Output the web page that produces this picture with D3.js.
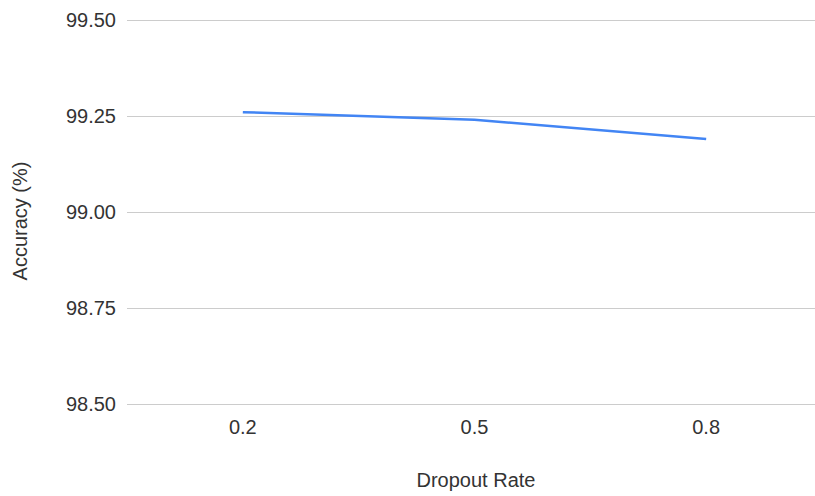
<!DOCTYPE html>
<html>
<head>
<meta charset="utf-8">
<script src="https://cdn.jsdelivr.net/npm/d3@7"></script>
<style>
  html, body { margin: 0; padding: 0; background: #fff; }
  svg text { font-family: "Liberation Sans", Arial, sans-serif; fill: #333; }
</style>
</head>
<body>
<svg id="chart" width="815" height="496"></svg>
<script>
// Dropout rate vs. accuracy
const dropoutRates = ["0.2", "0.5", "0.8"];
const accuracy = [99.26, 99.24, 99.19];
const yTicks = [98.50, 98.75, 99.00, 99.25, 99.50];

const svg = d3.select("#chart");
const W = 815, H = 496;
const plot = { left: 127, right: 822, top: 20, bottom: 404 };

const x = d3.scaleBand()
  .domain(dropoutRates)
  .range([plot.left, plot.right]);

const y = d3.scaleLinear()
  .domain([98.5, 99.5])
  .range([plot.bottom, plot.top]);

// horizontal gridlines
svg.append("g")
  .selectAll("line")
  .data(yTicks)
  .join("line")
  .attr("x1", plot.left)
  .attr("x2", plot.right)
  .attr("y1", d => Math.round(y(d)) + 0.5)
  .attr("y2", d => Math.round(y(d)) + 0.5)
  .attr("stroke", "#cccccc")
  .attr("stroke-width", 1.2);

// y tick labels
svg.append("g")
  .selectAll("text")
  .data(yTicks)
  .join("text")
  .attr("x", 116)
  .attr("y", d => y(d))
  .attr("dy", "0.35em")
  .attr("text-anchor", "end")
  .attr("font-size", 20)
  .text(d => d3.format(".2f")(d));

// x tick labels
svg.append("g")
  .selectAll("text")
  .data(dropoutRates)
  .join("text")
  .attr("x", d => x(d) + x.bandwidth() / 2)
  .attr("y", 434)
  .attr("text-anchor", "middle")
  .attr("font-size", 20)
  .text(d => d);

// axis titles
svg.append("text")
  .attr("x", 476)
  .attr("y", 487)
  .attr("text-anchor", "middle")
  .attr("font-size", 20)
  .text("Dropout Rate");

svg.append("text")
  .attr("transform", "translate(27,221) rotate(-90)")
  .attr("text-anchor", "middle")
  .attr("font-size", 20)
  .text("Accuracy (%)");

// accuracy line
const line = d3.line()
  .x((d, i) => x(dropoutRates[i]) + x.bandwidth() / 2)
  .y(d => y(d));

svg.append("path")
  .datum(accuracy)
  .attr("d", line)
  .attr("fill", "none")
  .attr("stroke", "#4285f4")
  .attr("stroke-width", 2.5)
  .attr("stroke-linejoin", "round");
</script>
</body>
</html>
